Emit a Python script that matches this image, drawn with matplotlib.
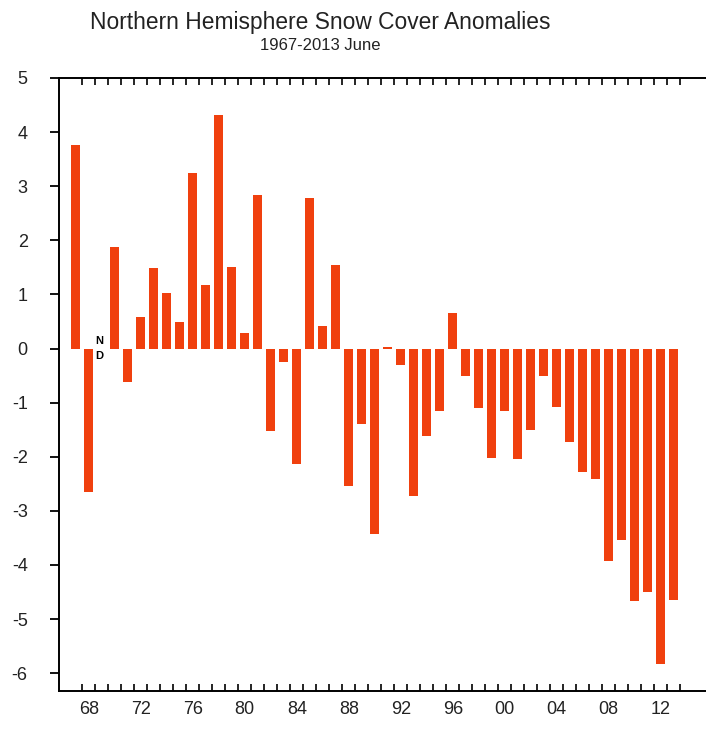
import matplotlib
matplotlib.use('Agg')
import matplotlib.pyplot as plt
import numpy as np

# June NH snow cover anomalies, 1967-2013 (1969: no data)
years = list(range(1967, 2014))
anomalies = [3.77, -2.65, np.nan, 1.88, -0.62, 0.59, 1.49, 1.03, 0.49, 3.25,
             1.17, 4.32, 1.51, 0.29, 2.83, -1.53, -0.25, -2.14, 2.79, 0.41,
             1.55, -2.55, -1.39, -3.43, 0.03, -0.31, -2.72, -1.61, -1.15, 0.65,
             -0.51, -1.10, -2.03, -1.15, -2.05, -1.50, -0.51, -1.08, -1.73, -2.29,
             -2.41, -3.93, -3.53, -4.67, -4.50, -5.83, -4.64]
label_years = list(range(1968, 2013, 4))
label_text = [f"{y % 100:02d}" for y in label_years]
y_ticks = list(range(-6, 6))

plt.rcParams['font.family'] = ['Liberation Sans', 'DejaVu Sans']
txt = '#222222'
bar_color = '#F0400E'

fig = plt.figure(figsize=(7.06, 7.29), dpi=100)
ax = fig.add_axes([59 / 706, 1 - 691 / 729, 1 - 59 / 706, (691 - 78) / 729])

yr = np.array(years, dtype=float)
val = np.array(anomalies, dtype=float)
ok = ~np.isnan(val)
ax.bar(yr[ok], val[ok], width=0.7, color=bar_color, edgecolor='none')

# "ND" marker for the missing year
nd_year = yr[~ok][0]
ax.text(nd_year - 0.2, 0, 'N\nD', ha='center', va='center', fontsize=8,
        fontweight='bold', color='black', linespacing=1.7)

ax.set_xlim(1965.71, 2015.48)
ax.set_ylim(-6.33, 5.0)

ax.spines['right'].set_visible(False)
for s in ['left', 'top', 'bottom']:
    ax.spines[s].set_linewidth(1.4)
    ax.spines[s].set_color('black')

ax.set_yticks(y_ticks)
ax.set_yticklabels([str(v) for v in y_ticks])
ax.tick_params(axis='y', direction='out', length=6.5, width=1.3, pad=16,
               labelsize=13, labelcolor=txt, left=True, right=False)

ax.set_xticks(label_years)
ax.set_xticklabels(label_text)
ax.set_xticks(yr + 0.5, minor=True)
ax.tick_params(axis='x', which='major', length=0, pad=7, labelsize=13,
               labelcolor=txt)
ax.tick_params(axis='x', which='minor', direction='in', length=4.8, width=1.2,
               top=True, bottom=True)

fig.text(320 / 706, 1 - 22 / 729, 'Northern Hemisphere Snow Cover Anomalies',
         ha='center', va='center', fontsize=16.4, color=txt)
fig.text(320 / 706, 1 - 46 / 729, '1967-2013 June',
         ha='center', va='center', fontsize=12, color=txt)

fig.savefig('out.png', dpi=100)
